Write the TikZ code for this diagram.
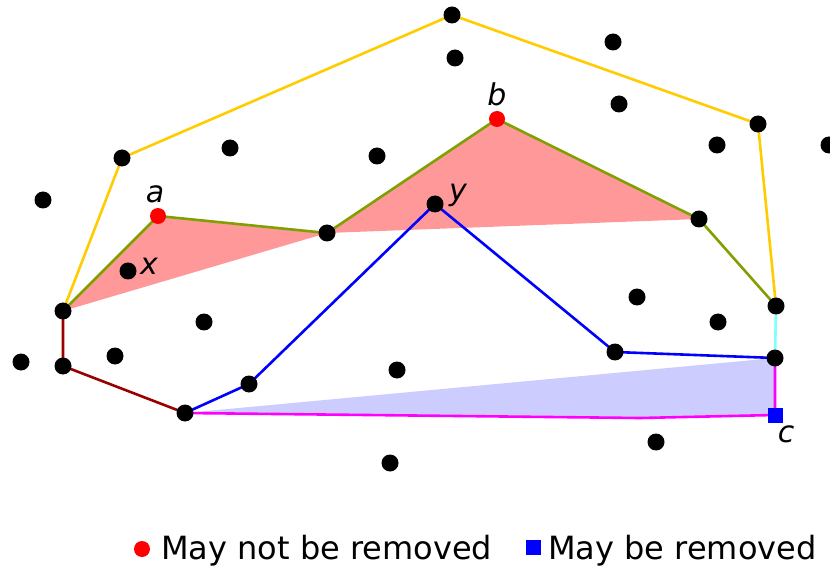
\documentclass[tikz,border=0pt]{standalone}
\usepackage{fontspec}
\setmainfont{DejaVu Sans}
\pgfdeclarelayer{bg}
\pgfdeclarelayer{fills}
\pgfsetlayers{fills,bg,main}
\definecolor{hullyellow}{HTML}{FFCC00}
\definecolor{olivegreen}{HTML}{7FA000}
\definecolor{darkred}{HTML}{990000}
\definecolor{lightcyan}{HTML}{80FFFF}
\definecolor{pinkfill}{HTML}{FF9999}
\definecolor{lavfill}{HTML}{CCCCFF}
\definecolor{puremagenta}{HTML}{FF00FF}
\definecolor{pureblue}{HTML}{0000FF}
\definecolor{purered}{HTML}{FF0000}
\tikzset{
  dot/.style={circle,fill=black,inner sep=0pt,minimum size=17pt},
  reddot/.style={circle,fill=purered,inner sep=0pt,minimum size=16pt},
  bluesq/.style={rectangle,fill=pureblue,inner sep=0pt,minimum size=15pt},
  lbl/.style={inner sep=0pt,anchor=base,font=\fontsize{30}{30}\selectfont\itshape},
  legtext/.style={inner sep=0pt,anchor=base west,font=\fontsize{32}{32}\selectfont},
  edge/.style={line width=2.6pt,line join=round}
}
\begin{document}
\begin{tikzpicture}[x=1pt,y=-1pt]
\useasboundingbox (0,0) rectangle (830,569);
% points
\node[dot] (top) at (452,15) {};
\node[dot] (q1) at (455,58) {};
\node[dot] (q2) at (613,42) {};
\node[dot] (q3) at (619,104) {};
\node[dot] (hr) at (758,124) {};
\node[dot] (q4) at (717,145) {};
\node[dot] (q5) at (829,145) {};
\node[dot] (hl) at (122,158) {};
\node[dot] (q6) at (230,148) {};
\node[dot] (q7) at (377,156) {};
\node[dot] (q8) at (43,200) {};
\node[reddot] (a) at (158,216) {};
\node[reddot] (b) at (497,119) {};
\node[dot] (y) at (435,204) {};
\node[dot] (m) at (327,233) {};
\node[dot] (g) at (699,219) {};
\node[dot] (x) at (128,271) {};
\node[dot] (l1) at (63,311) {};
\node[dot] (q9) at (204,322) {};
\node[dot] (q10) at (637,297) {};
\node[dot] (q11) at (718,322) {};
\node[dot] (r1) at (776,306) {};
\node[dot] (q12) at (21,362) {};
\node[dot] (l2) at (63,366) {};
\node[dot] (q13) at (115,356) {};
\node[dot] (u1) at (249,384) {};
\node[dot] (q14) at (397,370) {};
\node[dot] (u2) at (615,352) {};
\node[dot] (r2) at (775,358) {};
\node[dot] (bl) at (185,413) {};
\node[bluesq] (c) at (775,415) {};
\node[dot] (q15) at (656,442) {};
\node[dot] (q16) at (390,463) {};
\coordinate (bend) at (640,418);
% fills
\begin{pgfonlayer}{fills}
\fill[pinkfill] (l1.center) -- (a.center) -- (m.center) -- cycle;
\fill[pinkfill] (m.center) -- (b.center) -- (g.center) -- cycle;
\fill[lavfill] (bl.center) -- (r2.center) -- (c.center) -- (bend) -- cycle;
\end{pgfonlayer}
% edges
\begin{pgfonlayer}{bg}
\draw[edge,hullyellow] (l1.center) -- (hl.center) -- (top.center) -- (hr.center) -- (r1.center);
\draw[edge,olivegreen] (l1.center) -- (a.center) -- (m.center) -- (b.center) -- (g.center) -- (r1.center);
\draw[edge,darkred] (l1.center) -- (l2.center) -- (bl.center);
\draw[edge,pureblue] (bl.center) -- (u1.center) -- (y.center) -- (u2.center) -- (r2.center);
\draw[edge,lightcyan] (r1.center) -- (r2.center);
\draw[edge,puremagenta] (bl.center) -- (bend) -- (c.center) -- (r2.center);
\end{pgfonlayer}
% labels
\node[lbl] (la) at (155,203) {a};
\node[lbl] (lb) at (497,106) {b};
\node[lbl] (ly) at (458,201) {y};
\node[lbl] (lx) at (149,275) {x};
\node[lbl] (lc) at (786,442) {c};
% legend
\node[reddot] (legr) at (142,549) {};
\node[legtext] (legt1) at (161,559) {May not be removed};
\node[bluesq] (legb) at (533,547) {};
\node[legtext] (legt2) at (548,559) {May be removed};
\end{tikzpicture}
\end{document}
